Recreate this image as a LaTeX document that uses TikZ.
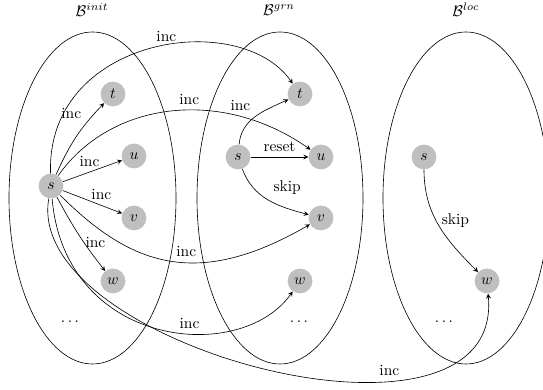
\documentclass[tikz,border=0pt]{standalone}
\usetikzlibrary{arrows}
\begin{document}
\begin{tikzpicture}[x=0.645pt,y=0.645pt,>=stealth,
  st/.style={circle,fill=gray!50,minimum size=16pt,inner sep=0pt}]
  \useasboundingbox (0,0) rectangle (543,390);
  % the three sets
  \draw (92.5,192) ellipse (83.5 and 166);
  \draw (280,192) ellipse (83 and 166);
  \draw (466,192) ellipse (83 and 166);
  \node (b1) at (92,380) {$\mathcal{B}^{init}$};
  \node (b2) at (279,380) {$\mathcal{B}^{grn}$};
  \node (b3) at (466,380) {$\mathcal{B}^{loc}$};
  % init
  \node[st] (s1) at (51,204) {$s$};
  \node[st] (t1) at (113,296) {$t$};
  \node[st] (u1) at (134,234) {$u$};
  \node[st] (v1) at (134,172) {$v$};
  \node[st] (w1) at (113,109) {$w$};
  \node (d1) at (70,68) {$\ldots$};
  % grn
  \node[st] (s2) at (238,233) {$s$};
  \node[st] (t2) at (300,296) {$t$};
  \node[st] (u2) at (321,233) {$u$};
  \node[st] (v2) at (321,172) {$v$};
  \node[st] (w2) at (300,109) {$w$};
  \node (d2) at (299,68) {$\ldots$};
  % loc
  \node[st] (s3) at (424,233) {$s$};
  \node[st] (w3) at (487,109) {$w$};
  \node (d3) at (444,68) {$\ldots$};
  \draw[->] (s1) to[bend left=10] node[pos=.85,left=5pt] {inc} (t1);
  \draw[->] (s1) -- node[pos=.45,above] {inc} (u1);
  \draw[->] (s1) -- node[pos=.65,above] {inc} (v1);
  \draw[->] (s1) to[bend right=5] node[pos=.6,right,inner sep=1pt] {inc} (w1);
  \draw[->] (s1) to[out=92,in=125,out distance=88pt,in distance=60pt] node[pos=.55,above,inner sep=2pt] {inc} (t2);
  \draw[->] (s1) to[out=55,in=145,out distance=58pt,in distance=71pt] node[pos=.57,above] {inc} (u2);
  \draw[->] (s1) to[out=-45,in=-150,out distance=65pt,in distance=84pt] node[pos=.57,above] {inc} (v2);
  \draw[->] (s1) to[out=-85,in=-125,out distance=97pt,in distance=58pt] node[pos=.6,above] {inc} (w2);
  \draw[->] (s1) to[out=-100,in=-85,out distance=97pt,in distance=116pt] node[pos=.69,above] {inc} (w3);
  \draw[->] (s2) to[out=85,in=205] node[pos=.5,above left] {inc} (t2);
  \draw[->] (s2) -- node[above] {reset} (u2);
  \draw[->] (s2) to[out=-70,in=165] node[pos=.5,above right] {skip} (v2);
  \draw[->] (s3) to[out=-90,in=135] node[pos=.45,right] {skip} (w3);
\end{tikzpicture}
\end{document}
